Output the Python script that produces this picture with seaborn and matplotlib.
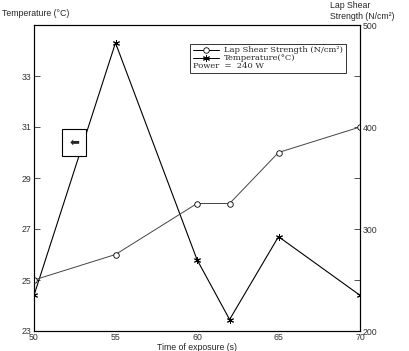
import matplotlib
matplotlib.use("Agg")
import matplotlib.pyplot as plt
import seaborn as sns
import pandas as pd

time_s = [50, 55, 60, 62, 65, 70]
temperature = [24.4, 34.3, 25.8, 23.45, 26.7, 24.4]
lap_shear = [250, 275, 325, 325, 375, 400]
left_ticks = [23, 25, 27, 29, 31, 33]
right_ticks = [200, 250, 300, 350, 400, 450, 500]
right_labels = ["200", "", "300", "", "400", "", "500"]
x_ticks = [50, 55, 60, 65, 70]

sns.set_style("white")
plt.rcParams['font.family'] = ['Liberation Sans', 'DejaVu Sans']
plt.rcParams['font.size'] = 6.3

df = pd.DataFrame({"time": time_s, "temp": temperature, "shear": lap_shear})

fig = plt.figure(figsize=(4.09, 3.51), dpi=100)
ax = fig.add_axes([34/409, 1-331/351, (360-34)/409, (331-25)/351])
ax2 = ax.twinx()

sns.lineplot(data=df, x="time", y="temp", ax=ax, color="black", lw=0.8,
             marker=(6, 2, 0), markersize=5, markeredgecolor="black", markeredgewidth=0.7)
sns.lineplot(data=df, x="time", y="shear", ax=ax2, color="#444444", lw=0.7,
             marker="o", markersize=4, markerfacecolor="white", markeredgecolor="black", markeredgewidth=0.6)

ax.set_xlim(50, 70)
ax.set_ylim(23, 35)
ax2.set_ylim(200, 500)
ax.set_xticks(x_ticks)
ax.set_yticks(left_ticks)
ax2.set_yticks(right_ticks)
ax2.set_yticklabels(right_labels)
ax.set_xlabel("Time of exposure (s)", labelpad=0.5, fontsize=6.3)
ax.set_ylabel("")
ax2.set_ylabel("")
for a in (ax, ax2):
    a.tick_params(direction="in", length=4, width=0.6, labelsize=6.3, colors="#333333", pad=2)
    for s in a.spines.values():
        s.set_linewidth(0.8)
        s.set_color("black")
ax.tick_params(axis="x", pad=1.5)

fig.text(2/409, 1-13/351, "Temperature (\u00b0C)", fontsize=6.3, ha="left", va="center")
fig.text(330/409, 1-1/351, "Lap Shear\nStrength (N/cm\u00b2)", fontsize=6.3, ha="left", va="top", linespacing=1.35)

from matplotlib.lines import Line2D
handles = [
    Line2D([], [], color="black", lw=0.7, marker="o", markersize=4, markerfacecolor="white", markeredgewidth=0.6),
    Line2D([], [], color="black", lw=0.7, marker=(6, 2, 0), markersize=5, markeredgewidth=0.7),
    Line2D([], [], color="none"),
]
labels = ["Lap Shear Strength (N/cm\u00b2)", "Temperature(\u00b0C)", "Power  =  240 W"]
fs_leg = 6.0
hl, htp = 3.2, 0.6
leg = ax2.legend(handles, labels, loc="upper left", bbox_to_anchor=((190-34)/326, 1-(44-25)/306),
                 frameon=True, fancybox=False, edgecolor="black",
                 handlelength=hl, handletextpad=htp, borderpad=0.3, labelspacing=0.0,
                 borderaxespad=0, prop={"family": "DejaVu Serif", "size": fs_leg})
leg.get_frame().set_linewidth(0.7)
shift = -(hl + htp) * fs_leg * 100 / 72
leg.get_texts()[2].set_position((shift, 0))

ax.annotate("\u2b05", xy=(52.48, 30.39), ha="center", va="center", fontsize=8.5, family="DejaVu Sans",
            bbox=dict(boxstyle="square,pad=0.6", fc="white", ec="black", lw=0.8))

fig.savefig("out.png", dpi=100)
